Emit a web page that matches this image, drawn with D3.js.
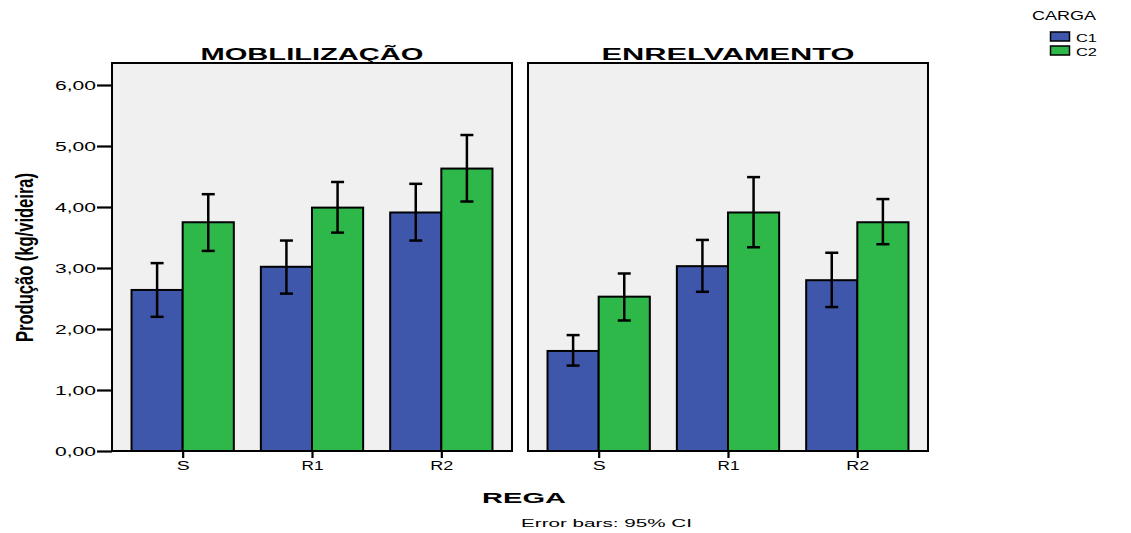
<!DOCTYPE html>
<html>
<head>
<meta charset="utf-8">
<script src="https://cdn.jsdelivr.net/npm/d3@7"></script>
<style>
  html, body { margin: 0; padding: 0; background: #fff; }
  svg { display: block; }
</style>
</head>
<body>
<svg id="chart" width="1131" height="533"></svg>
<script>
// ---- data ----
const panels = ["MOBLILIZAÇÃO", "ENRELVAMENTO"];
const categories = ["S", "R1", "R2"];
const seriesNames = ["C1", "C2"];
const seriesColors = ["#3e57ab", "#2eb84a"];
// values per panel: [panel][category]
const meanC1 = [[2.64, 3.02, 3.91], [1.64, 3.03, 2.80]];
const meanC2 = [[3.75, 3.99, 4.63], [2.53, 3.91, 3.75]];
const lowC1  = [[2.20, 2.58, 3.45], [1.40, 2.61, 2.36]];
const highC1 = [[3.08, 3.45, 4.38], [1.90, 3.46, 3.25]];
const lowC2  = [[3.28, 3.58, 4.09], [2.14, 3.34, 3.39]];
const highC2 = [[4.21, 4.41, 5.18], [2.91, 4.49, 4.13]];
const yTicks = [0, 1, 2, 3, 4, 5, 6];
const yTickLabels = ["0,00", "1,00", "2,00", "3,00", "4,00", "5,00", "6,00"];

const means = [meanC1, meanC2];
const lows = [lowC1, lowC2];
const highs = [highC1, highC2];

const FONT = "Liberation Sans, Arial, sans-serif";
const svg = d3.select("#chart");
const panelX = [112, 528];
const panelW = 400;
const plotTop = 63, plotBottom = 451;
const panelTitleLen = [223, 253];
const xLabelLen = {"S": 13, "R1": 22, "R2": 23};

const y = d3.scaleLinear().domain([0, 6]).range([plotBottom, plotBottom - 6 * 61]);

// y axis (left panel only)
const yAxis = d3.axisLeft(y).tickValues(yTicks)
  .tickFormat((d, i) => yTickLabels[i]).tickSize(15).tickPadding(1);
const yg = svg.append("g").attr("transform", `translate(${panelX[0]},0)`).call(yAxis);
yg.select(".domain").remove();
yg.selectAll(".tick line").attr("stroke", "#000").attr("stroke-width", 2.2);
yg.selectAll(".tick text").attr("font-family", FONT)
  .attr("font-size", 12.5).attr("fill", "#000")
  .attr("textLength", 41).attr("lengthAdjust", "spacingAndGlyphs");

panels.forEach((pname, p) => {
  const g = svg.append("g").attr("transform", `translate(${panelX[p]},0)`);
  g.append("rect").attr("x", 0).attr("y", plotTop).attr("width", panelW)
    .attr("height", plotBottom - plotTop).attr("fill", "#f0f0f0");

  const x0 = d3.scaleBand().domain(categories).range([0, panelW])
    .paddingInner(0.209).paddingOuter(0.151);
  const x1 = d3.scaleBand().domain(seriesNames).range([0, x0.bandwidth()]).padding(0);

  categories.forEach((c, ci) => {
    seriesNames.forEach((s, si) => {
      const bx = x0(c) + x1(s);
      const v = means[si][p][ci];
      g.append("rect").attr("x", bx).attr("y", y(v))
        .attr("width", x1.bandwidth()).attr("height", y(0) - y(v))
        .attr("fill", seriesColors[si]).attr("stroke", "#000").attr("stroke-width", 2);
    });
  });
  categories.forEach((c, ci) => {
    seriesNames.forEach((s, si) => {
      const cx = x0(c) + x1(s) + x1.bandwidth() / 2;
      const lo = lows[si][p][ci], hi = highs[si][p][ci];
      const eg = g.append("g").attr("stroke", "#000").attr("stroke-width", 2.5);
      eg.append("line").attr("x1", cx).attr("x2", cx).attr("y1", y(lo)).attr("y2", y(hi));
      eg.append("line").attr("x1", cx - 6.5).attr("x2", cx + 6.5).attr("y1", y(lo)).attr("y2", y(lo));
      eg.append("line").attr("x1", cx - 6.5).attr("x2", cx + 6.5).attr("y1", y(hi)).attr("y2", y(hi));
    });
  });

  g.append("rect").attr("x", 0).attr("y", plotTop).attr("width", panelW)
    .attr("height", plotBottom - plotTop).attr("fill", "none").attr("stroke", "#000").attr("stroke-width", 2);

  const xc = d3.scalePoint().domain(categories)
    .range([x0(categories[0]) + x0.bandwidth() / 2, x0(categories[2]) + x0.bandwidth() / 2]);
  const xAxis = d3.axisBottom(xc).tickSize(7).tickPadding(3);
  const xg = g.append("g").attr("transform", `translate(0,${plotBottom})`).call(xAxis);
  xg.select(".domain").remove();
  xg.selectAll(".tick line").attr("stroke", "#000").attr("stroke-width", 2.2);
  xg.selectAll(".tick text").attr("font-family", FONT)
    .attr("font-size", 12.5).attr("fill", "#000")
    .attr("textLength", d => xLabelLen[d]).attr("lengthAdjust", "spacingAndGlyphs");

  g.append("text").attr("x", panelW / 2).attr("y", 60).attr("text-anchor", "middle")
    .attr("font-family", FONT).attr("font-weight", "bold")
    .attr("font-size", 16).attr("textLength", panelTitleLen[p])
    .attr("lengthAdjust", "spacingAndGlyphs").text(pname);
});

// y axis title (horizontally widened like the reference)
svg.append("text")
  .attr("transform", `translate(32.5,257.5) scale(1.5,1) rotate(-90)`)
  .attr("text-anchor", "middle")
  .attr("font-family", FONT).attr("font-weight", "bold").attr("font-size", 16)
  .attr("textLength", 169).attr("lengthAdjust", "spacingAndGlyphs")
  .text("Produção (kg/videira)");

// x axis title
svg.append("text").attr("x", 524).attr("y", 503).attr("text-anchor", "middle")
  .attr("font-family", FONT).attr("font-weight", "bold").attr("font-size", 15.5)
  .attr("textLength", 84).attr("lengthAdjust", "spacingAndGlyphs").text("REGA");

svg.append("text").attr("x", 606.5).attr("y", 527).attr("text-anchor", "middle")
  .attr("font-family", FONT).attr("font-size", 11)
  .attr("textLength", 171).attr("lengthAdjust", "spacingAndGlyphs").text("Error bars: 95% CI");

// legend
const leg = svg.append("g");
leg.append("text").attr("x", 1032).attr("y", 20)
  .attr("font-family", FONT).attr("font-size", 13)
  .attr("textLength", 64).attr("lengthAdjust", "spacingAndGlyphs").text("CARGA");
seriesNames.forEach((s, i) => {
  leg.append("rect").attr("x", 1050.5).attr("y", 32 + i * 14).attr("width", 19).attr("height", 9)
    .attr("fill", seriesColors[i]).attr("stroke", "#000").attr("stroke-width", 1.5);
  leg.append("text").attr("x", 1076).attr("y", 41.5 + i * 14)
    .attr("font-family", FONT).attr("font-size", 11.5)
    .attr("textLength", 21).attr("lengthAdjust", "spacingAndGlyphs").text(s);
});
</script>
</body>
</html>
